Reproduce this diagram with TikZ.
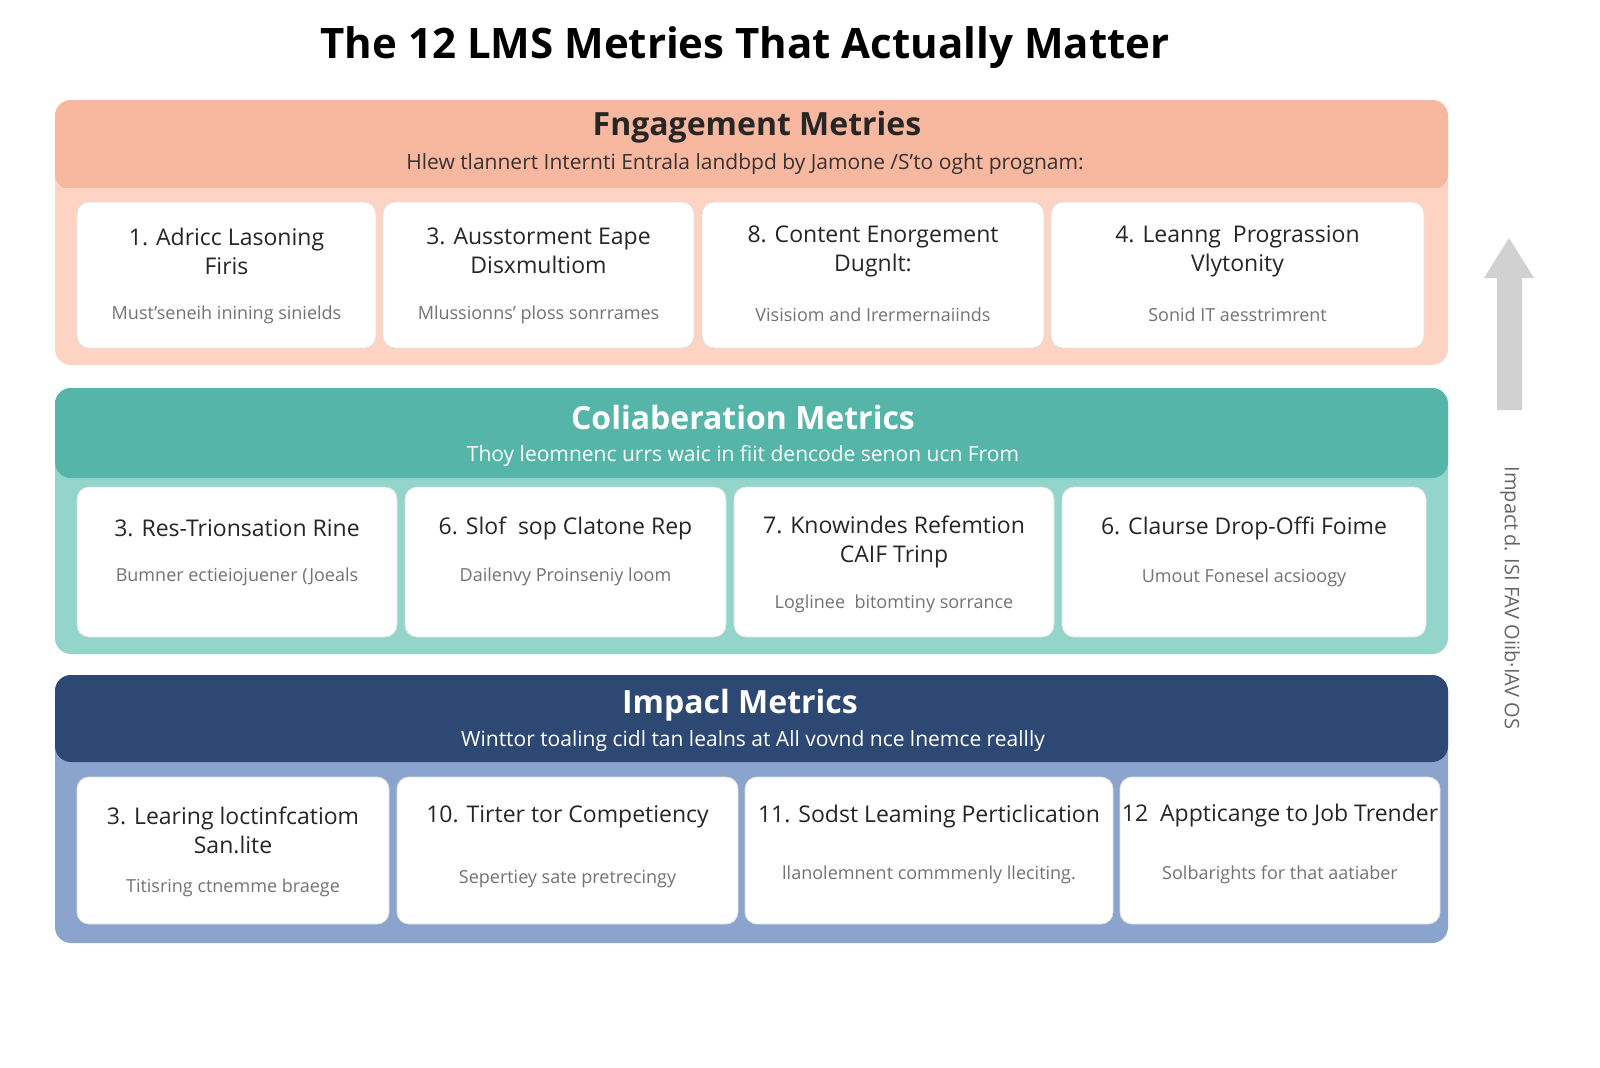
\documentclass[tikz,border=0pt]{standalone}
\usepackage{fontspec}
\setmainfont{Open Sans}
\begin{document}
\begin{tikzpicture}[x=0.5pt,y=-0.5pt,
 card/.style={fill=white,draw=black!12,rounded corners=6pt},
 ct/.style={font=\fontsize{11.5}{14.5}\selectfont,text=black!85,align=center},
 cs/.style={font=\fontsize{9}{11}\selectfont,text=black!55,align=center},
 hd/.style={font=\bfseries\fontsize{16}{19}\selectfont,align=center},
 sb/.style={font=\fontsize{10.5}{13}\selectfont,align=center}]
\definecolor{salh}{HTML}{F8B8A0}\definecolor{salb}{HTML}{FDD3C3}
\definecolor{teh}{HTML}{55B5A9}\definecolor{teb}{HTML}{94D5CB}
\definecolor{nvh}{HTML}{2E4874}\definecolor{nvb}{HTML}{8BA4CD}
\useasboundingbox (0,0) rectangle (1600,1067);
\fill[white] (0,0) rectangle (1600,1067);
\node[font=\bfseries\fontsize{21}{26}\selectfont] (title) at (745,48) {The 12 LMS Metries That Actually Matter};
% panels
\fill[salb,rounded corners=8pt] (55,100) rectangle (1448,365);
\fill[salh,rounded corners=8pt] (55,100) rectangle (1448,190);
\fill[salb] (55,188) rectangle (1448,192);
\fill[teb,rounded corners=8pt] (55,388) rectangle (1448,654);
\fill[teh,rounded corners=8pt] (55,388) rectangle (1448,478);
\fill[nvb,rounded corners=8pt] (55,675) rectangle (1448,943);
\fill[nvh,rounded corners=8pt] (55,675) rectangle (1448,762);
\node[hd,text=black!85] (h1) at (757,127) {Fngagement Metries};
\node[sb,text=black!80] (s1) at (745,164) {Hlew tlannert Internti Entrala landbpd by Jamone /S'to oght prognam:};
\node[hd,text=white] (h2) at (743,417) {Coliaberation Metrics};
\node[sb,text=white] (s2) at (743,456) {Thoy leomnenc urrs waic in fiit dencode senon ucn From};
\node[hd,text=white] (h3) at (740,705) {Impacl Metrics};
\node[sb,text=white] (s3) at (753,741) {Winttor toaling cidl tan lealns at All vovnd nce lnemce reallly};
\newcommand{\crd}[9]{\draw[card] (#1,#2) rectangle (#3,#4); \node[ct] (#9) at ({(#1+#3)/2},#5) {#6}; \node[cs] at ({(#1+#3)/2},#7) {#8};}
\crd{77}{202}{376}{348}{251}{1. Adricc Lasoning\\Firis}{315}{Must'seneih inining sinields}{c1}
\crd{383}{202}{694}{348}{251}{3. Ausstorment Eape\\Disxmultiom}{315}{Mlussionns' ploss sonrrames}{c2}
\crd{702}{202}{1044}{348}{251}{8. Content Enorgement\\Dugnlt:}{315}{Visisiom and Irermernaiinds}{c3}
\crd{1051}{202}{1424}{348}{251}{4. Leanng\ \ Prograssion\\Vlytonity}{315}{Sonid IT aesstrimrent}{c4}
\crd{77}{487}{397}{637}{528}{3. Res-Trionsation Rine}{577}{Bumner ectieiojuener (Joeals}{c5}
\crd{405}{487}{726}{637}{528}{6. Slof\ \ sop Clatone Rep}{577}{Dailenvy Proinseniy loom}{c6}
\crd{734}{487}{1054}{637}{542}{7. Knowindes Refemtion\\CAIF Trinp}{604}{Loglinee\ \ bitomtiny sorrance}{c7}
\crd{1062}{487}{1426}{637}{528}{6. Claurse Drop-Offi Foime}{578}{Umout Fonesel acsioogy}{c8}
\crd{77}{777}{389}{924}{830}{3. Learing loctinfcatiom\\San.lite}{888}{Titisring ctnemme braege}{c9}
\crd{397}{777}{738}{924}{817}{10. Tirter tor Competiency}{879}{Sepertiey sate pretrecingy}{c10}
\crd{745}{777}{1113}{924}{817}{11. Sodst Leaming Perticlication}{875}{llanolemnent commmenly lleciting.}{c11}
\crd{1120}{777}{1440}{924}{816}{12\ \ Appticange to Job Trender}{875}{Solbarights for that aatiaber}{c12}
% arrow
\fill[black!18] (1497,410) -- (1497,278) -- (1484,278) -- (1509,238) -- (1534,278) -- (1522,278) -- (1522,410) -- cycle;
\node[rotate=-90,font=\fontsize{10}{12}\selectfont,text=black!60] (vt) at (1510,598) {Impact\,d. ISI FAV Oiib·IAV OS};
\end{tikzpicture}
\end{document}
